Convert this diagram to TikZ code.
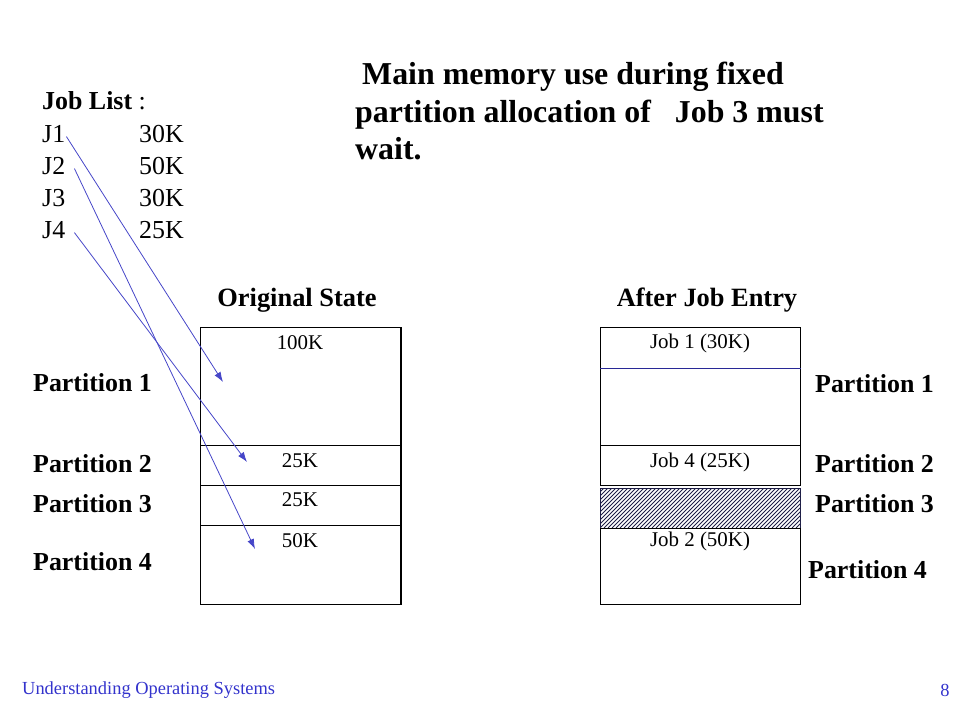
\documentclass[tikz,border=0pt]{standalone}
\usepackage{fontspec}
\setmainfont{Liberation Serif}
\usepackage{xcolor}
\usetikzlibrary{arrows.meta}
\definecolor{arrowblue}{RGB}{70,70,200}
\definecolor{lineblue}{RGB}{40,40,150}
\definecolor{footblue}{RGB}{51,51,204}
\definecolor{hatchcol}{RGB}{30,30,70}
\tikzset{part/.style={draw=black,line width=0.8bp,minimum width=200bp,inner sep=0pt,anchor=north west},
 memtext/.style={font=\fontsize{21}{25}\selectfont,inner sep=0pt},
 parttext/.style={font=\fontsize{26}{30}\selectfont\bfseries,inner sep=0pt,anchor=west},
 headtext/.style={font=\fontsize{26.5}{30}\selectfont\bfseries,inner sep=0pt},
 jobtext/.style={font=\fontsize{26}{30}\selectfont,inner sep=0pt,anchor=base west},
 titletext/.style={font=\fontsize{32}{37}\selectfont\bfseries,inner sep=0pt,anchor=base west},
 foottext/.style={font=\fontsize{18.5}{22}\selectfont,text=footblue,inner sep=0pt},
 jobarrow/.style={draw=arrowblue,line width=0.8bp,-{Latex[length=10bp,width=7bp]}},
 hatchline/.style={draw=hatchcol,line width=0.9bp},
 }
\begin{document}
\begin{tikzpicture}[x=1bp,y=-1bp]
        \useasboundingbox (0,0) rectangle (960,720);
        \node[titletext] (ttl1) at (362,85) {Main memory use during fixed};
        \node[titletext] (ttl2) at (355,123) {partition allocation of\ \ \ Job 3 must};
        \node[titletext] (ttl3) at (355,160) {wait.};
        \node[jobtext] (jl) at (42,110) {{\bfseries Job List} :};
        \node[jobtext] (j1) at (42,143) {J1};
        \node[jobtext] (j2) at (42,175) {J2};
        \node[jobtext] (j3) at (42,206) {J3};
        \node[jobtext] (j4) at (42,238) {J4};
        \node[jobtext] (s1) at (139,143) {30K};
        \node[jobtext] (s2) at (139,175) {50K};
        \node[jobtext] (s3) at (139,206) {30K};
        \node[jobtext] (s4) at (139,238) {25K};
        \node[headtext] (orig) at (297,300) {Original State};
        \node[headtext] (after) at (707,300) {After Job Entry};
        \node[part,minimum height=118bp] (o1) at (200,327) {};
        \node[part,minimum height=40bp] (o2) at (200,445) {};
        \node[part,minimum height=40bp] (o3) at (200,485) {};
        \node[part,minimum height=79bp] (o4) at (200,525) {};
        \draw[line width=2bp] (o1.north east) -- (o4.south east);
        \node[memtext] (o1t) at (300,343) {100K};
        \node[memtext] (o2t) at (300,461) {25K};
        \node[memtext] (o3t) at (300,500) {25K};
        \node[memtext] (o4t) at (300,541) {50K};
        \node[part,minimum height=118bp] (a1) at (600,327) {};
        \draw[lineblue,line width=0.8bp] ([yshift=-41bp]a1.north west) -- ([yshift=-41bp]a1.north east);
        \node[part,minimum height=40bp] (a2) at (600,445) {};
        \begin{scope}
            \clip (600,488) rectangle (800,528);
            \foreach \hx in {560,564,...,800}
                \draw[hatchline] (\hx,528) -- ++(40,-40);
        \end{scope}
        \node[part,minimum height=40bp,draw=hatchcol] (a3) at (600,488) {};
        \node[part,minimum height=76bp] (a4) at (600,528) {};
        \node[memtext] (a1t) at (700,343) {Job 1 (30K)};
        \node[memtext] (a2t) at (700,462) {Job 4 (25K)};
        \node[memtext] (a4t) at (700,541) {Job 2 (50K)};
        \node[parttext] (lp1) at (33,383) {Partition 1};
        \node[parttext] (lp2) at (33,464) {Partition 2};
        \node[parttext] (lp3) at (33,504) {Partition 3};
        \node[parttext] (lp4) at (33,562) {Partition 4};
        \node[parttext] (rp1) at (815,384) {Partition 1};
        \node[parttext] (rp2) at (815,464) {Partition 2};
        \node[parttext] (rp3) at (815,504) {Partition 3};
        \node[parttext] (rp4) at (808,570) {Partition 4};
        \coordinate (in1) at (223,382);
        \coordinate (in4) at (247,462);
        \coordinate (in2) at (255,549);
        \draw[jobarrow] ([xshift=1bp,yshift=-2bp]j1.east) -- (in1);
        \draw[jobarrow] ([xshift=9bp,yshift=-2bp]j2.east) -- (in2);
        \draw[jobarrow] ([xshift=9bp,yshift=-3bp]j4.east) -- (in4);
        \node[foottext,anchor=west] (foot) at (22,690) {Understanding Operating Systems};
        \node[foottext] (pg) at (945,690) {8};
    \end{tikzpicture}
\end{document}
